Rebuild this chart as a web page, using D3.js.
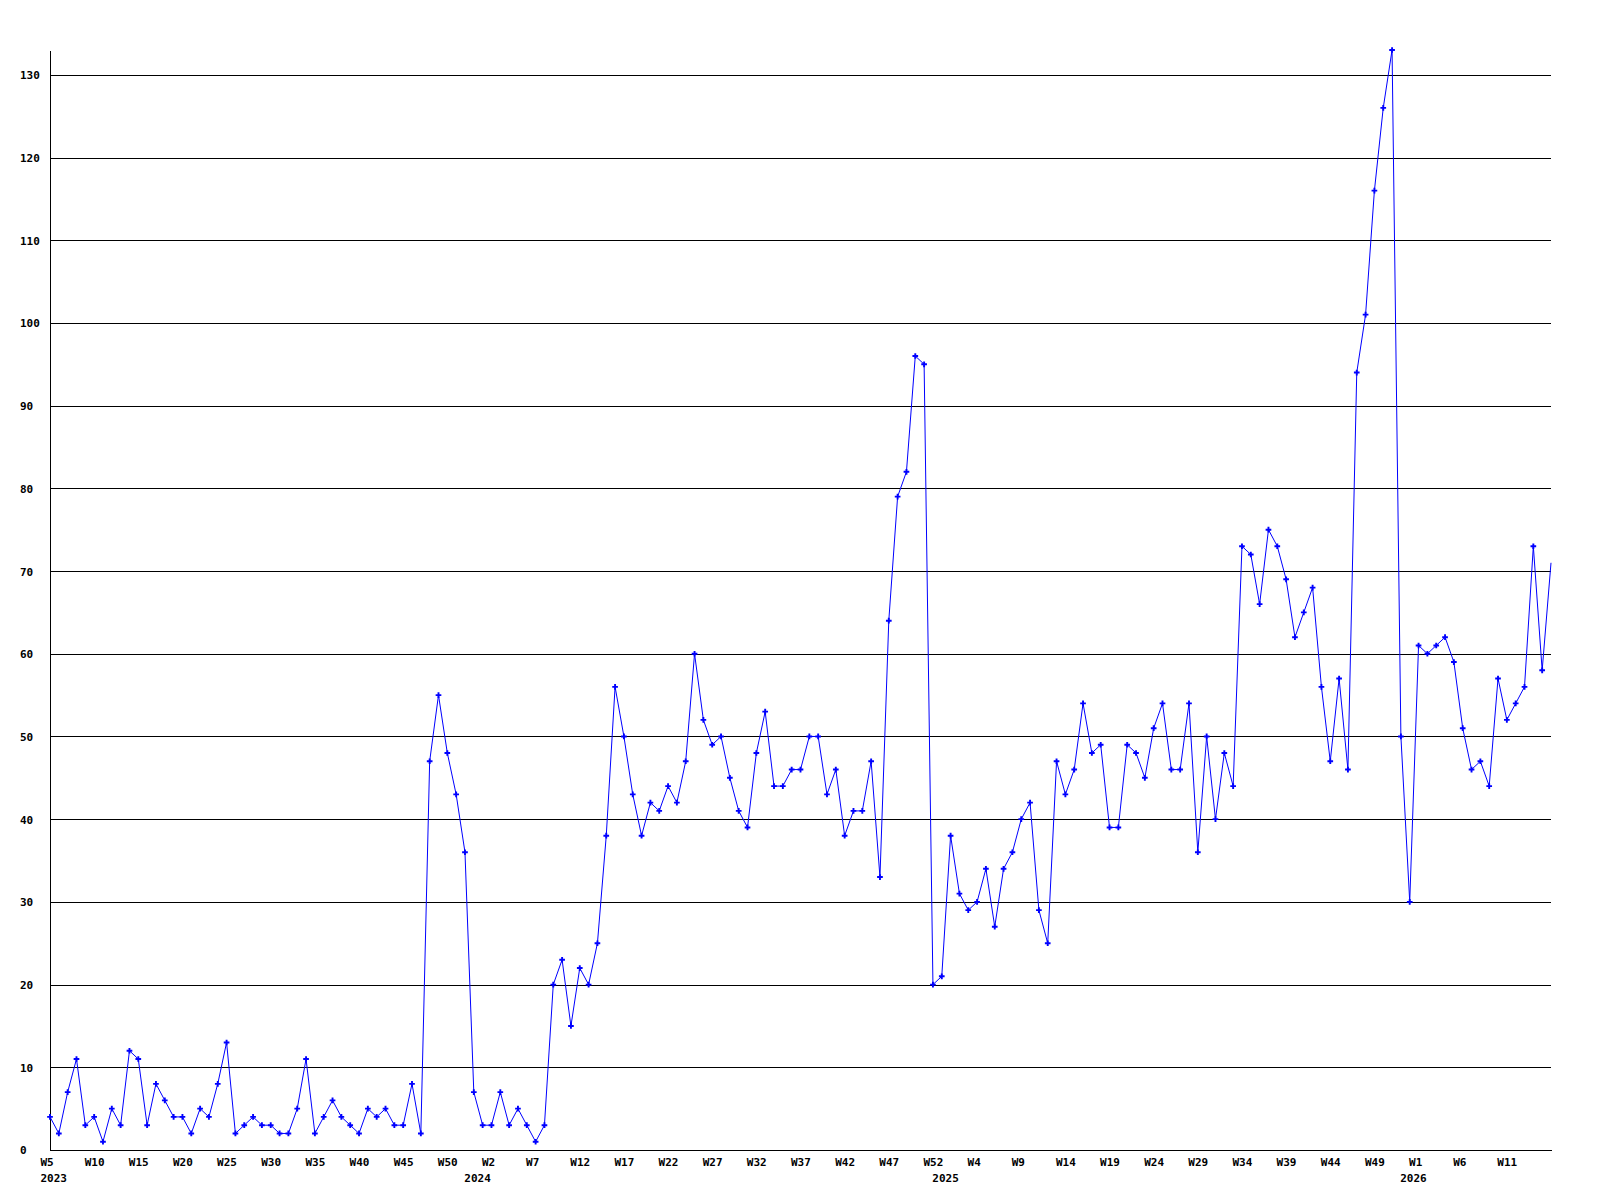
<!DOCTYPE html>
<html>
<head>
<meta charset="utf-8">
<script src="https://cdn.jsdelivr.net/npm/d3@7"></script>
<style>
  body { margin: 0; background: #fff; }
  svg { display: block; }
  text { font-family: "DejaVu Sans Mono", "Liberation Mono", monospace; font-weight: bold; font-size: 11px; fill: #000; }
</style>
</head>
<body>
<svg id="chart"></svg>
<script>
// weekly counts, 2023 W5 .. 2026 W16
const counts2023 = [4, 2, 7, 11, 3, 4, 1, 5, 3, 12, 11, 3, 8, 6, 4, 4, 2, 5, 4, 8,
  13, 2, 3, 4, 3, 3, 2, 2, 5, 11, 2, 4, 6, 4, 3, 2, 5, 4, 5, 3, 3, 8, 2, 47, 55, 48, 43, 36];
const counts2024 = [7, 3, 3, 7, 3, 5, 3, 1, 3, 20, 23, 15, 22, 20, 25, 38, 56, 50, 43, 38,
  42, 41, 44, 42, 47, 60, 52, 49, 50, 45, 41, 39, 48, 53, 44, 44, 46, 46, 50, 50,
  43, 46, 38, 41, 41, 47, 33, 64, 79, 82, 96, 95, 20];
const counts2025 = [21, 38, 31, 29, 30, 34, 27, 34, 36, 40, 42, 29, 25, 47, 43, 46, 54, 48, 49, 39,
  39, 49, 48, 45, 51, 54, 46, 46, 54, 36, 50, 40, 48, 44, 73, 72, 66, 75, 73, 69,
  62, 65, 68, 56, 47, 57, 46, 94, 101, 116, 126, 133, 50];
const counts2026 = [30, 61, 60, 61, 62, 59, 51, 46, 47, 44, 57, 52, 54, 56, 73, 58, 71];

const years = ['2023', '2024', '2025', '2026'];
const firstWeek = [5, 0, 0, 0];
const yearCounts = [counts2023, counts2024, counts2025, counts2026];
const yTicks = [0, 10, 20, 30, 40, 50, 60, 70, 80, 90, 100, 110, 120, 130];
const labelEvery = 5;

// flatten into one series, tagging each point with year / week
const data = [];
const yearStart = [];
yearCounts.forEach((arr, yi) => {
  yearStart.push(data.length);
  arr.forEach((v, k) => data.push({ i: data.length, year: years[yi], week: firstWeek[yi] + k, value: v }));
});

const W = 1600, H = 1200;
const margin = { top: 50, right: 49, bottom: 50, left: 50 };
const width = W - margin.left - margin.right;
const height = H - margin.top - margin.bottom;

const svg = d3.select('#chart').attr('width', W).attr('height', H);
svg.append('rect').attr('width', W).attr('height', H).attr('fill', '#fff');

const g = svg.append('g').attr('transform', `translate(${margin.left},${margin.top})`);

const x = d3.scaleLinear().domain([0, data.length - 1]).range([0, width]);
const y = d3.scaleLinear().domain([0, d3.max(data, d => d.value)]).range([height, 0]);

// horizontal grid lines
const grid = g.append('g')
  .attr('shape-rendering', 'crispEdges')
  .call(d3.axisRight(y).tickValues(yTicks.filter(t => t > 0)).tickSize(width).tickFormat(''));
grid.select('.domain').remove();
grid.selectAll('line').attr('stroke', '#000');

// y axis: line + left-aligned labels
const yAxisG = g.append('g')
  .attr('shape-rendering', 'crispEdges')
  .call(d3.axisLeft(y).tickValues(yTicks).tickSize(0).tickSizeOuter(0));
yAxisG.select('.domain').attr('stroke', '#000');
yAxisG.selectAll('text')
  .attr('text-anchor', 'start')
  .attr('x', -30)
  .attr('dy', '0.36em')
  .style('font', null);

// x axis: week labels every 5th point (not on the last, partial week)
const xTicks = d3.range(0, data.length - 1, labelEvery);
const xAxisG = g.append('g')
  .attr('transform', `translate(0,${height})`)
  .attr('shape-rendering', 'crispEdges')
  .call(d3.axisBottom(x).tickValues(xTicks).tickSize(0).tickSizeOuter(0)
    .tickFormat(i => 'W' + data[i].week));
xAxisG.select('.domain').attr('stroke', '#000');
xAxisG.selectAll('text')
  .attr('text-anchor', 'start')
  .attr('x', -10)
  .attr('y', 16)
  .attr('dy', 0)
  .style('font', null);

// year labels under the first point of each year
const yearAxisG = g.append('g')
  .attr('transform', `translate(0,${height})`)
  .call(d3.axisBottom(x).tickValues(yearStart).tickSize(0)
    .tickFormat(i => data[i].year));
yearAxisG.select('.domain').remove();
yearAxisG.selectAll('text')
  .attr('text-anchor', 'start')
  .attr('x', -10)
  .attr('y', 32)
  .attr('dy', 0)
  .style('font', null);

// the series
const line = d3.line().x(d => x(d.i)).y(d => y(d.value));
g.append('path')
  .datum(data)
  .attr('fill', 'none')
  .attr('stroke', '#0000ff')
  .attr('stroke-width', 1)
  .attr('d', line);

const marker = d3.symbol().type(d3.symbolCross).size(18);
g.selectAll('.pt')
  .data(data.slice(0, -1))
  .enter().append('path')
    .attr('class', 'pt')
    .attr('d', marker)
    .attr('fill', '#0000ff')
    .attr('transform', d => `translate(${x(d.i)},${y(d.value)})`);
</script>
</body>
</html>
